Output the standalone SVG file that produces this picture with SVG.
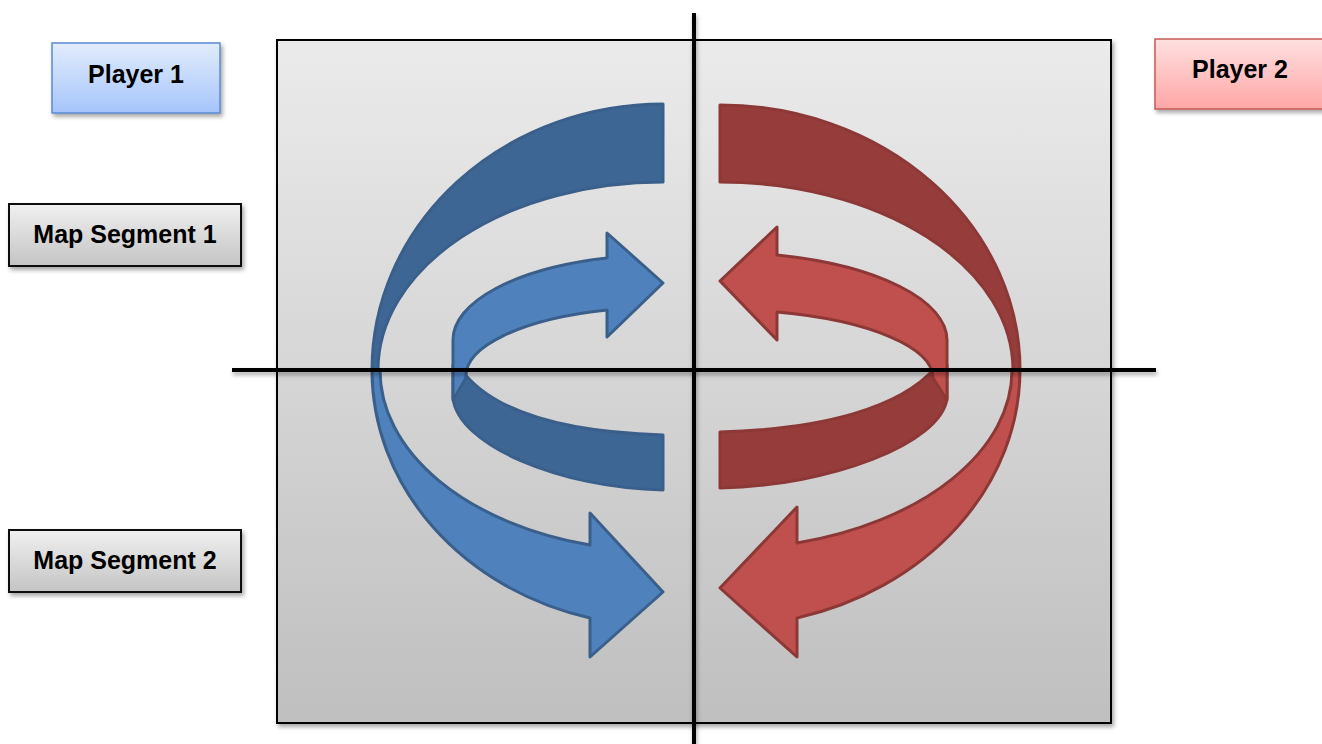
<svg xmlns="http://www.w3.org/2000/svg" width="1322" height="744" viewBox="0 0 1322 744">
<defs>
  <linearGradient id="gBoard" x1="0" y1="0" x2="0" y2="1">
    <stop offset="0" stop-color="#ebebeb"/>
    <stop offset="1" stop-color="#bfbfbf"/>
  </linearGradient>
  <linearGradient id="gBlue" x1="0" y1="0" x2="0" y2="1">
    <stop offset="0" stop-color="#e2ecfc"/>
    <stop offset="1" stop-color="#a5c5fb"/>
  </linearGradient>
  <linearGradient id="gRed" x1="0" y1="0" x2="0" y2="1">
    <stop offset="0" stop-color="#ffe0e0"/>
    <stop offset="1" stop-color="#ffa6a6"/>
  </linearGradient>
  <linearGradient id="gGray" x1="0" y1="0" x2="0" y2="1">
    <stop offset="0" stop-color="#f0f0f0"/>
    <stop offset="1" stop-color="#c4c4c4"/>
  </linearGradient>
  <filter id="shadow" x="-10%" y="-10%" width="130%" height="140%">
    <feDropShadow dx="2" dy="3" stdDeviation="2" flood-color="#000" flood-opacity="0.35"/>
  </filter>
  <filter id="lineShadow" filterUnits="userSpaceOnUse" x="0" y="0" width="1322" height="744">
    <feDropShadow dx="1" dy="3" stdDeviation="2" flood-color="#000" flood-opacity="0.35"/>
  </filter>
</defs>
<style>
  .lbl { font-family: "Liberation Sans", Arial, sans-serif; font-weight: bold; font-size: 25px; fill: #000; text-anchor: middle; }
  .bDark { fill: #3e6695; stroke: #3a5f8b; stroke-width: 3; stroke-linejoin: round; }
  .bLight { fill: #4f81bd; stroke: #3a5f8b; stroke-width: 3; stroke-linejoin: round; }
  .rDark { fill: #963d3c; stroke: #8c3836; stroke-width: 3; stroke-linejoin: round; }
  .rLight { fill: #c0504d; stroke: #8c3836; stroke-width: 3; stroke-linejoin: round; }
  .axis { stroke: #000; stroke-width: 4; fill: none; }
</style>

<g id="board">
  <rect x="277" y="40" width="834" height="683" fill="url(#gBoard)" stroke="#000" stroke-width="2" filter="url(#shadow)"/>
</g>

<g id="player1">
  <rect x="52" y="43" width="168" height="70" fill="url(#gBlue)" stroke="#5a8ad0" stroke-width="1.5" filter="url(#shadow)"/>
  <text class="lbl" x="136" y="83">Player 1</text>
</g>
<g id="player2">
  <rect x="1155" y="39" width="180" height="70" fill="url(#gRed)" stroke="#c65b58" stroke-width="1.5" filter="url(#shadow)"/>
  <text class="lbl" x="1240" y="78">Player 2</text>
</g>
<g id="segment1">
  <rect x="9" y="204" width="232" height="62" fill="url(#gGray)" stroke="#111" stroke-width="2" filter="url(#shadow)"/>
  <text class="lbl" x="125" y="243">Map Segment 1</text>
</g>
<g id="segment2">
  <rect x="9" y="530" width="232" height="62" fill="url(#gGray)" stroke="#111" stroke-width="2" filter="url(#shadow)"/>
  <text class="lbl" x="125" y="569">Map Segment 2</text>
</g>

<g id="blue-arrows">
  <path class="bDark" d="M 663,104 A 291,266 0 0 0 372,370 L 378,370 A 285,188 0 0 1 663,182 Z"/>
  <path class="bDark" d="M 663,435 C 560,432 490,410 460,368 L 453,365 L 453,398 C 458,445 560,488 663,490 Z"/>
  <path class="bLight" d="M 453,400 L 453,340 A 210,85 0 0 1 607,258 L 607,233 L 663,283 L 607,337 L 607,310 A 197,69 0 0 0 466,378 Z"/>
  <path class="bLight" d="M 372,370 A 291,256 0 0 0 590,618 L 590,657 L 663,592 L 590,513 L 590,545 A 283,181 0 0 1 380,370 Z"/>
</g>

<g id="red-arrows">
  <path class="rDark" d="M 720,105 A 300,265 0 0 1 1020,370 L 1013,370 A 293,188 0 0 0 720,182 Z"/>
  <path class="rDark" d="M 720,432 C 823,429 900,408 935,368 L 947,365 L 947,398 C 942,443 830,486 720,488 Z"/>
  <path class="rLight" d="M 947,400 L 947,340 A 227,88 0 0 0 777,255 L 777,227 L 720,281 L 777,340 L 777,312 A 213,68.5 0 0 1 933,378 Z"/>
  <path class="rLight" d="M 1020,370 A 300,257 0 0 1 797,618 L 797,657 L 720,588 L 797,507 L 797,543 A 292,179 0 0 0 1012,370 Z"/>
</g>

<g id="connectors">
  <line class="axis" x1="232" y1="370" x2="1156" y2="370" filter="url(#lineShadow)"/>
  <line class="axis" x1="694" y1="13" x2="694" y2="744" filter="url(#lineShadow)"/>
</g>
</svg>
